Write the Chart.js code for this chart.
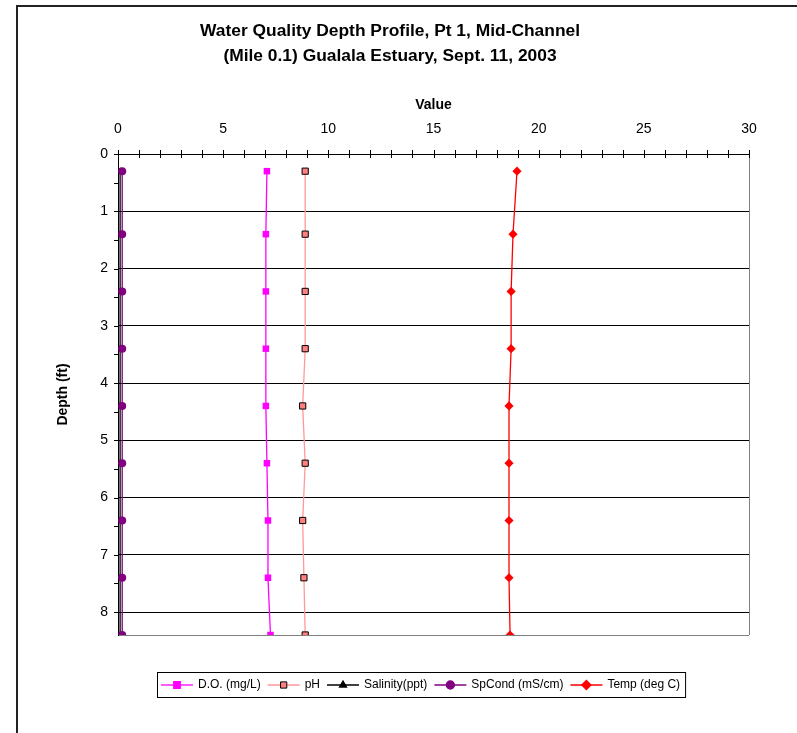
<!DOCTYPE html>
<html>
<head>
<meta charset="utf-8">
<script src="https://cdn.jsdelivr.net/npm/chart.js@4"></script>
<style>
  body { margin: 0; background: #fff; }
  #wrap { width: 797px; height: 733px; }
</style>
</head>
<body>
<div id="wrap"><canvas id="myChart" width="797" height="733"></canvas></div>
<script>
// depth of each reading (ft)
const depths = [0.3, 1.4, 2.4, 3.4, 4.4, 5.4, 6.4, 7.4, 8.4]
const doVals = [7.08, 7.03, 7.03, 7.03, 7.03, 7.08, 7.13, 7.13, 7.25]
const phVals = [8.9, 8.9, 8.9, 8.9, 8.78, 8.9, 8.78, 8.84, 8.9]
const salinityVals = [0.1, 0.1, 0.1, 0.1, 0.1, 0.1, 0.1, 0.1, 0.1]
const spCondVals = [0.2, 0.2, 0.2, 0.2, 0.2, 0.2, 0.2, 0.2, 0.2]
const tempVals = [18.97, 18.78, 18.69, 18.69, 18.59, 18.59, 18.59, 18.59, 18.64]

const xTicks = [0, 5, 10, 15, 20, 25, 30]
const yTicks = [0, 1, 2, 3, 4, 5, 6, 7, 8]
const yMax = 8.4

const series = [
  {label: 'D.O. (mg/L)', values: doVals, color: '#FF00FF', fill: '#FF00FF', edge: '#FF00FF', style: 'rect', r: 4.6},
  {label: 'pH', values: phVals, color: '#FF9999', fill: '#FF8080', edge: '#000000', style: 'rect', r: 4.4},
  {label: 'Salinity(ppt)', values: salinityVals, color: '#000000', fill: '#000000', edge: '#000000', style: 'triangle', r: 4},
  {label: 'SpCond (mS/cm)', values: spCondVals, color: '#800080', fill: '#800080', edge: '#800080', style: 'circle', r: 4},
  {label: 'Temp (deg C)', values: tempVals, color: '#FF0000', fill: '#FF0000', edge: '#FF0000', style: 'rectRot', r: 4.6}
]

const toPoints = (vals) => vals.map((v, i) => ({x: v, y: depths[i]}))

const datasets = series.map((s, i) => ({
  label: s.label,
  data: toPoints(s.values),
  showLine: true,
  borderColor: s.color,
  borderWidth: 1.3,
  pointStyle: s.style,
  pointRadius: s.r,
  pointBackgroundColor: s.fill,
  pointBorderColor: s.edge,
  pointBorderWidth: s.edge == s.fill ? 0 : 1,
  order: 5 - i
}))

// frame, tick marks, right border and legend box
const extras = {
  id: 'extras',
  afterDraw(chart) {
    const ctx = chart.ctx
    const a = chart.chartArea
    const xs = chart.scales.x
    const ys = chart.scales.y
    ctx.save()
    // outer frame
    ctx.strokeStyle = '#222'
    ctx.lineWidth = 2
    ctx.beginPath()
    ctx.moveTo(797, 6); ctx.lineTo(17, 6); ctx.lineTo(17, 733)
    ctx.stroke()
    // right border of plot
    ctx.strokeStyle = '#808080'
    ctx.lineWidth = 1
    ctx.beginPath()
    ctx.moveTo(Math.round(a.right) + 0.5, a.top); ctx.lineTo(Math.round(a.right) + 0.5, a.bottom)
    ctx.stroke()
    // x tick marks (cross the axis)
    ctx.strokeStyle = '#000'
    ctx.beginPath()
    for (let v = 0; v <= 30; v++) {
      const px = Math.round(xs.getPixelForValue(v)) + 0.5
      ctx.moveTo(px, a.top - 4); ctx.lineTo(px, a.top + 4)
    }
    // y tick marks (outside)
    for (let v = 0; v <= 8; v += 0.5) {
      const py = Math.round(ys.getPixelForValue(v)) + 0.5
      ctx.moveTo(a.left - 4, py); ctx.lineTo(a.left, py)
    }
    ctx.stroke()

    // legend
    const bx = 157, by = 672, bh = 25
    ctx.font = '12px "Liberation Sans", Arial, sans-serif'
    let widths = series.map(s => ctx.measureText(s.label).width)
    let total = widths.reduce((p, c) => p + c, 0) + series.length * 44 + 2
    ctx.strokeStyle = '#000'
    ctx.strokeRect(bx + 0.5, by + 0.5, total, bh)
    let x = bx + 4
    const cy = by + bh / 2 + 0.5
    series.forEach((s, i) => {
      ctx.strokeStyle = s.color
      ctx.lineWidth = 1.3
      ctx.beginPath()
      ctx.moveTo(x, cy); ctx.lineTo(x + 32, cy)
      ctx.stroke()
      ctx.fillStyle = s.fill
      ctx.strokeStyle = s.edge
      ctx.lineWidth = s.edge == s.fill ? 0 : 1
      Chart.helpers.drawPoint(ctx, {pointStyle: s.style, radius: s.r, rotation: 0, borderWidth: ctx.lineWidth}, x + 16, cy)
      ctx.fillStyle = '#000'
      ctx.textBaseline = 'middle'
      ctx.fillText(s.label, x + 37, cy)
      x += 44 + widths[i]
    })
    ctx.restore()
  }
}

const font = '"Liberation Sans", Arial, sans-serif'

new Chart(document.getElementById('myChart'), {
  type: 'scatter',
  data: {datasets: datasets},
  plugins: [extras],
  options: {
    responsive: false,
    animation: false,
    layout: {padding: {left: 31, right: 48, top: 0, bottom: 98}},
    plugins: {
      legend: {display: false},
      tooltip: {enabled: false},
      title: {
        display: true,
        text: ['Water Quality Depth Profile, Pt 1, Mid-Channel', '(Mile 0.1) Gualala Estuary, Sept. 11, 2003'],
        color: '#000',
        font: {family: font, size: 17.4, weight: 'bold', lineHeight: '25px'},
        padding: {top: 19, bottom: 9}
      }
    },
    scales: {
      x: {
        type: 'linear',
        position: 'top',
        min: 0,
        max: 30,
        afterBuildTicks: (scale) => { scale.ticks = xTicks.map(v => ({value: v})) },
        afterFit: (scale) => { scale.height = 76 },
        ticks: {color: '#000', font: {family: font, size: 14}, padding: 16, maxRotation: 0, autoSkip: false},
        grid: {drawOnChartArea: false, drawTicks: false},
        border: {color: '#000', width: 1},
        title: {display: true, text: 'Value', color: '#000', font: {family: font, size: 14, weight: 'bold'}, padding: {top: 19, bottom: 0}}
      },
      y: {
        type: 'linear',
        reverse: true,
        min: 0,
        max: yMax,
        afterBuildTicks: (scale) => { scale.ticks = yTicks.concat([yMax]).map(v => ({value: v})) },
        afterFit: (scale) => { scale.width = 87 },
        ticks: {
          color: '#000',
          font: {family: font, size: 14},
          padding: 10,
          autoSkip: false,
          callback: (v) => (yTicks.includes(v) ? String(v) : '')
        },
        grid: {
          drawTicks: false,
          color: (c) => (c.tick && c.tick.value === yMax ? '#808080' : '#000')
        },
        border: {color: '#000', width: 1},
        title: {display: true, text: 'Depth (ft)', color: '#000', font: {family: font, size: 14, weight: 'bold'}, padding: {top: 24, bottom: 0}}
      }
    }
  }
})
</script>
</body>
</html>
